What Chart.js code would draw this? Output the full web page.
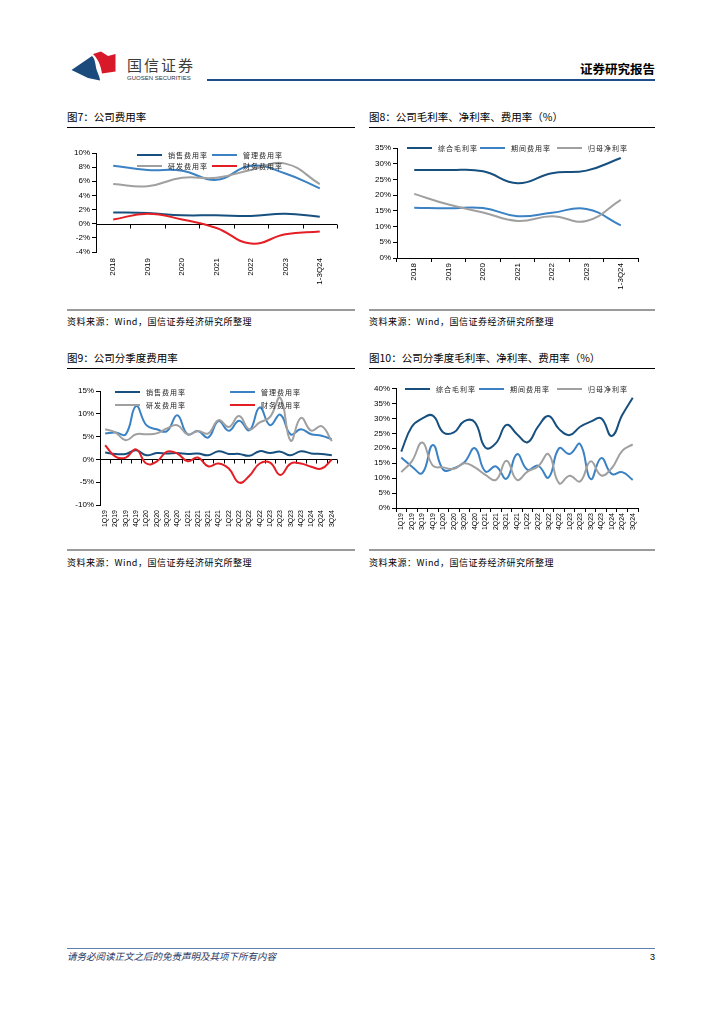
<!DOCTYPE html>
<html>
<head>
<meta charset="utf-8">
<script src="https://cdn.jsdelivr.net/npm/chart.js@4.4.1/dist/chart.umd.min.js"></script>
<style>
body { margin: 0; background: #fff; }
#page { position: relative; width: 724px; height: 1024px; overflow: hidden; font-family: "Noto Sans CJK SC", sans-serif; }
.abs { position: absolute; white-space: nowrap; line-height: 1; }
.title { font-size: 10.5px; color: #000; }
.rule { position: absolute; height: 1px; background: #000; }
.srcrule { position: absolute; height: 2px; background: #9a9a9a; }
.src { font-size: 9px; letter-spacing: 0.5px; color: #000; }
.lg { position: absolute; display: flex; align-items: center; height: 10px; font-size: 7px; letter-spacing: 1px; color: #222; white-space: nowrap; line-height: 1; }
.lg i { display: inline-block; width: 25px; height: 2px; margin-right: 6px; }
canvas { position: absolute; }
</style>
</head>
<body>
<div id="page">
  <!-- header -->
  <svg class="abs" style="left:68px;top:48px" width="52" height="36" viewBox="68 48 52 36">
    <path d="M71.5,70 L92,56 C96,60 95,66 97,71 C98.5,75 100,78 100,80.5 L88,78 Z" fill="#1B4A7C"/>
    <path d="M93,54 L101,51.5 L108,56 L115.5,54 L115.5,71.5 L102,73.5 C101,67 99,60 93,54 Z" fill="#D7192A"/>
  </svg>
  <div class="abs" style="left:127px;top:57px;font-size:15px;letter-spacing:2px;color:#3c3c3c;">国信证券</div>
  <div class="abs" style="left:127px;top:75px;font-family:'Liberation Sans',Arial;font-size:6px;color:#333;">GUOSEN SECURITIES</div>
  <div class="abs" style="left:207px;top:79px;width:448px;height:2px;background:#1F4E8C;"></div>
  <div class="abs" style="left:580px;top:63px;font-size:12.5px;font-weight:bold;color:#000;">证券研究报告</div>

  <!-- row 1 -->
  <div class="abs title" style="left:67px;top:112px;">图7：公司费用率</div>
  <div class="rule" style="left:67px;top:127px;width:288px;"></div>
  <div class="abs title" style="left:369px;top:112px;">图8：公司毛利率、净利率、费用率（%）</div>
  <div class="rule" style="left:369px;top:127px;width:286px;"></div>
  <canvas id="c7"></canvas>
  <canvas id="c8"></canvas>
  <div class="lg" style="left:137px;top:150px;"><i style="background:#17507F"></i>销售费用率</div>
  <div class="lg" style="left:212px;top:150px;"><i style="background:#3B82C4"></i>管理费用率</div>
  <div class="lg" style="left:137px;top:161px;"><i style="background:#A0A0A0"></i>研发费用率</div>
  <div class="lg" style="left:212px;top:161px;"><i style="background:#E31E24"></i>财务费用率</div>
  <div class="lg" style="left:407px;top:143px;"><i style="background:#17507F"></i>综合毛利率</div>
  <div class="lg" style="left:480px;top:143px;"><i style="background:#3B82C4"></i>期间费用率</div>
  <div class="lg" style="left:557px;top:143px;"><i style="background:#A0A0A0"></i>归母净利率</div>
  <div class="srcrule" style="left:67px;top:309px;width:288px;"></div>
  <div class="srcrule" style="left:369px;top:309px;width:286px;"></div>
  <div class="abs src" style="left:67px;top:317px;">资料来源：Wind，国信证券经济研究所整理</div>
  <div class="abs src" style="left:369px;top:317px;">资料来源：Wind，国信证券经济研究所整理</div>

  <!-- row 2 -->
  <div class="abs title" style="left:67px;top:353px;">图9：公司分季度费用率</div>
  <div class="rule" style="left:67px;top:368px;width:288px;"></div>
  <div class="abs title" style="left:369px;top:353px;">图10：公司分季度毛利率、净利率、费用率（%）</div>
  <div class="rule" style="left:369px;top:368px;width:286px;"></div>
  <canvas id="c9"></canvas>
  <canvas id="c10"></canvas>
  <div class="lg" style="left:115px;top:387px;"><i style="background:#17507F"></i>销售费用率</div>
  <div class="lg" style="left:230px;top:387px;"><i style="background:#3B82C4"></i>管理费用率</div>
  <div class="lg" style="left:115px;top:400px;"><i style="background:#A0A0A0"></i>研发费用率</div>
  <div class="lg" style="left:230px;top:400px;"><i style="background:#E31E24"></i>财务费用率</div>
  <div class="lg" style="left:405px;top:384px;"><i style="background:#17507F"></i>综合毛利率</div>
  <div class="lg" style="left:479px;top:384px;"><i style="background:#3B82C4"></i>期间费用率</div>
  <div class="lg" style="left:557px;top:384px;"><i style="background:#A0A0A0"></i>归母净利率</div>
  <div class="srcrule" style="left:67px;top:549px;width:288px;"></div>
  <div class="srcrule" style="left:369px;top:549px;width:286px;"></div>
  <div class="abs src" style="left:67px;top:558px;">资料来源：Wind，国信证券经济研究所整理</div>
  <div class="abs src" style="left:369px;top:558px;">资料来源：Wind，国信证券经济研究所整理</div>

  <!-- footer -->
  <div class="abs" style="left:67px;top:948px;width:588px;height:1px;background:#5B7FB0;"></div>
  <div class="abs" style="left:67px;top:952px;font-size:9.5px;font-style:italic;color:#1F3864;">请务必阅读正文之后的免责声明及其项下所有内容</div>
  <div class="abs" style="left:650px;top:953px;font-family:'Liberation Sans',Arial;font-size:9px;color:#000;">3</div>
</div>

<script>
// 年度数据
const yearLabels = ['2018', '2019', '2020', '2021', '2022', '2023', '1-3Q24'];
const salesRateY = [1.6, 1.5, 1.2, 1.2, 1.1, 1.4, 1.0];
const mgmtRateY = [8.2, 7.6, 7.5, 6.2, 8.2, 7.1, 5.0];
const rdRateY = [5.6, 5.3, 6.5, 6.5, 7.6, 8.5, 5.6];
const finRateY = [0.6, 1.4, 0.6, -0.6, -2.8, -1.5, -1.1];
const grossMarginY = [28.0, 28.0, 27.6, 23.8, 27.0, 27.8, 31.8];
const periodExpY = [16.0, 15.8, 15.9, 13.3, 14.4, 15.6, 10.4];
const netMarginY = [20.4, 17.0, 14.5, 11.8, 13.3, 11.8, 18.5];

// 季度数据
const quarterLabels = ['1Q19', '2Q19', '3Q19', '4Q19', '1Q20', '2Q20', '3Q20', '4Q20',
    '1Q21', '2Q21', '3Q21', '4Q21', '1Q22', '2Q22', '3Q22', '4Q22',
    '1Q23', '2Q23', '3Q23', '4Q23', '1Q24', '2Q24', '3Q24'];
const salesRateQ = [1.5, 1.2, 1.2, 2.0, 0.9, 1.4, 1.3, 1.4, 1.2, 1.3, 0.9, 1.8,
    1.2, 1.2, 0.8, 1.8, 1.4, 1.7, 0.9, 1.8, 1.3, 1.2, 0.9];
const mgmtRateQ = [5.7, 5.9, 5.5, 11.7, 7.5, 6.6, 6.2, 9.7, 5.5, 6.2, 4.8, 8.4,
    6.3, 8.5, 6.4, 11.4, 7.5, 9.8, 5.5, 6.6, 5.5, 5.2, 4.4];
const rdRateQ = [6.6, 5.9, 4.2, 5.5, 5.5, 5.7, 6.8, 7.5, 5.5, 6.2, 5.7, 8.6,
    7.1, 9.5, 6.6, 8.1, 9.3, 13.5, 4.1, 9.1, 6.3, 7.3, 4.0];
const finRateQ = [3.1, 0.6, 0.4, 2.2, -0.9, -0.5, 1.7, 1.3, -0.4, 0.4, -1.5, -0.9,
    -2.0, -5.1, -3.6, -0.9, -0.7, -3.4, -0.9, -0.9, -1.6, -2.0, 0.0];
const grossMarginQ = [18.9, 27.2, 30.0, 30.9, 25.3, 25.3, 29.1, 28.7, 20.2, 21.7, 27.8, 24.7,
    22.0, 27.2, 30.8, 26.4, 24.4, 27.2, 28.9, 30.0, 24.1, 31.1, 36.9];
const periodExpQ = [16.9, 13.9, 11.7, 21.1, 12.8, 13.3, 15.3, 20.0, 12.2, 13.9, 9.8, 18.0,
    12.8, 14.2, 10.2, 20.0, 18.1, 21.4, 9.7, 16.7, 11.4, 12.0, 9.4];
const netMarginQ = [12.0, 15.6, 21.9, 14.2, 13.6, 13.1, 15.0, 13.6, 11.1, 9.4, 15.8, 9.4,
    12.2, 13.9, 18.0, 8.3, 10.8, 8.9, 15.6, 10.9, 13.3, 19.1, 21.3];

const NAVY = '#17507F', BLUE = '#3B82C4', GREY = '#A0A0A0', RED = '#E31E24';

// 0% 线和刻度
const zeroLine = {
    id: 'zeroLine',
    beforeDatasetsDraw(chart, args, opts) {
        if (!opts.show) return;
        const { ctx, chartArea: a, scales: { x, y } } = chart;
        const yz = Math.round(y.getPixelForValue(0)) + 0.5;
        const n = x.ticks.length;
        ctx.save();
        ctx.strokeStyle = '#000';
        ctx.lineWidth = 1;
        ctx.beginPath();
        ctx.moveTo(a.left, yz);
        ctx.lineTo(a.right, yz);
        for (let i = 1; i <= n; i++) {
            const px = Math.round(a.left + (a.right - a.left) * i / n) + 0.5;
            ctx.moveTo(px, yz);
            ctx.lineTo(px, yz + 4);
        }
        ctx.stroke();
        ctx.restore();
    }
};

// box = [left, top, width, height], plot = [x0, x1, yTop, yBottom]
function makeChart(id, box, plot, labels, series, yMin, yMax, step, zero, labelSize, labelPad) {
    const cv = document.getElementById(id);
    cv.style.left = box[0] + 'px';
    cv.style.top = box[1] + 'px';
    cv.width = box[2];
    cv.height = box[3];
    const yW = plot[0] - box[0];
    const padR = box[0] + box[2] - plot[1];
    const padT = plot[2] - box[1];
    const xH = box[1] + box[3] - plot[3];

    new Chart(cv, {
        type: 'line',
        data: {
            labels: labels,
            datasets: series.map(s => ({
                label: s[0],
                data: s[1],
                borderColor: s[2],
                borderWidth: 2,
                pointRadius: 0,
                tension: 0.45,
                fill: false
            }))
        },
        options: {
            responsive: false,
            animation: false,
            layout: { padding: { left: 0, right: padR, top: padT, bottom: 0 } },
            plugins: {
                legend: { display: false },
                tooltip: { enabled: false },
                zeroLine: { show: zero }
            },
            scales: {
                x: {
                    offset: true,
                    afterFit: s => { s.height = xH; },
                    border: { display: !zero, color: '#000' },
                    grid: zero
                        ? { display: false, drawTicks: false }
                        : { display: true, drawOnChartArea: false, offset: true, color: '#000', tickLength: 4 },
                    ticks: {
                        autoSkip: false,
                        maxRotation: 90,
                        minRotation: 90,
                        color: '#000',
                        padding: labelPad,
                        font: { family: 'Liberation Sans, Arial', size: labelSize }
                    }
                },
                y: {
                    min: yMin,
                    max: yMax,
                    afterFit: s => { s.width = yW; },
                    border: { color: '#000' },
                    grid: { drawOnChartArea: false, color: '#000', tickLength: 4 },
                    ticks: {
                        stepSize: step,
                        color: '#000',
                        padding: 2,
                        font: { family: 'Liberation Sans, Arial', size: 8 },
                        callback: v => v + '%'
                    }
                }
            }
        },
        plugins: [zeroLine]
    });
}

makeChart('c7', [60, 140, 300, 160], [96, 337, 153, 252], yearLabels, [
    ['研发费用率', rdRateY, GREY],
    ['财务费用率', finRateY, RED],
    ['管理费用率', mgmtRateY, BLUE],
    ['销售费用率', salesRateY, NAVY]
], -4, 10, 2, true, 8, 6);

makeChart('c8', [362, 140, 300, 160], [397, 638, 148, 258], yearLabels, [
    ['归母净利率', netMarginY, GREY],
    ['期间费用率', periodExpY, BLUE],
    ['综合毛利率', grossMarginY, NAVY]
], 0, 35, 5, false, 8, 1);

makeChart('c9', [60, 380, 300, 165], [100, 337, 391, 505], quarterLabels, [
    ['研发费用率', rdRateQ, GREY],
    ['管理费用率', mgmtRateQ, BLUE],
    ['财务费用率', finRateQ, RED],
    ['销售费用率', salesRateQ, NAVY]
], -10, 15, 5, true, 7, 5);

makeChart('c10', [362, 380, 300, 165], [396, 638, 388.5, 508], quarterLabels, [
    ['归母净利率', netMarginQ, GREY],
    ['期间费用率', periodExpQ, BLUE],
    ['综合毛利率', grossMarginQ, NAVY]
], 0, 40, 5, false, 7, 1);
</script>
</body>
</html>
